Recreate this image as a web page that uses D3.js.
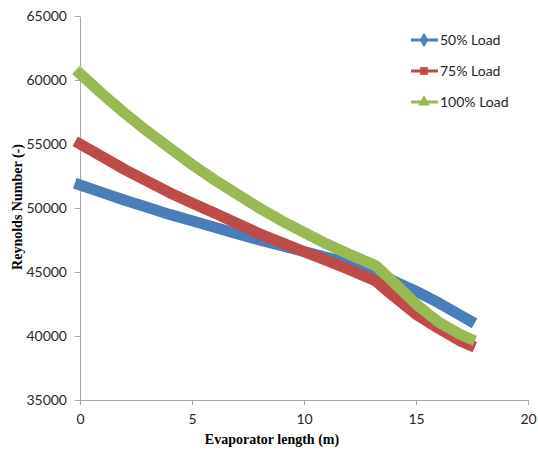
<!DOCTYPE html>
<html>
<head>
<meta charset="utf-8">
<script src="https://cdn.jsdelivr.net/npm/d3@7"></script>
<style>
    body { margin: 0; background: #fff; }
    svg { display: block; }
</style>
</head>
<body>
<div id="svgcontainer"></div>
<script>

// Data
var lengths = [0, 1, 2, 3, 4, 5, 6, 7, 8, 9, 10, 11, 12, 13.2, 14, 15, 16, 17, 17.4];
var load50 = [51800, 51200, 50600, 50050, 49500, 49000, 48500, 48000, 47500, 47050, 46600, 46150, 45700, 45000, 44300, 43500, 42600, 41600, 41200];
var load75 = [55000, 54000, 53000, 52100, 51200, 50400, 49600, 48800, 48000, 47300, 46600, 45900, 45200, 44300, 43100, 41700, 40600, 39600, 39300];
var load100 = [60500, 58900, 57400, 56000, 54700, 53400, 52200, 51100, 50000, 49000, 48100, 47200, 46400, 45500, 44200, 42500, 41100, 40100, 39800];
var seriesNames = ["50% Load", "75% Load", "100% Load"];
var xTicks = [0, 5, 10, 15, 20];
var yTicks = [35000, 40000, 45000, 50000, 55000, 60000, 65000];

window.onload = function () {

    var width = 538;
    var height = 454;

    var colors = ["#4A7EBB", "#BE4B48", "#98B954"];
    var symbols = [d3.symbolDiamond, d3.symbolSquare, d3.symbolTriangle];

    var svg = d3.select("#svgcontainer")
        .append("svg").attr("width", width).attr("height", height);

    var x = d3.scaleLinear().domain([0, 20]).range([80, 528]);
    var y = d3.scaleLinear().domain([35000, 65000]).range([400, 16]);

    // Axes
    var xAxis = svg.append("g")
        .attr("transform", "translate(0,400)")
        .call(d3.axisBottom(x).tickValues(xTicks).tickFormat(d3.format("d")).tickSize(5).tickPadding(9));

    var yAxis = svg.append("g")
        .attr("transform", "translate(80,0)")
        .call(d3.axisLeft(y).tickValues(yTicks).tickFormat(d3.format("d")).tickSize(5).tickPadding(8));

    [xAxis, yAxis].forEach(function (ax) {
        ax.select(".domain").attr("stroke", "#a6a6a6").attr("stroke-width", 1);
        ax.selectAll(".tick line").attr("stroke", "#a6a6a6");
        ax.selectAll(".tick text")
            .attr("fill", "#262626")
            .style("font-family", "Lato, 'Open Sans', sans-serif")
            .style("font-size", "14px");
    });
    xAxis.select(".domain").attr("d", "M80.5,0.5H528.5");
    yAxis.select(".domain").attr("d", "M0.5,400.5V16.5");

    // Axis titles
    svg.append("text")
        .attr("x", 272)
        .attr("y", 444)
        .attr("text-anchor", "middle")
        .style("font-family", "'Liberation Serif', 'Times New Roman', serif")
        .style("font-weight", "bold")
        .style("font-size", "14px")
        .style("fill", "#000")
        .text("Evaporator length (m)");

    svg.append("text")
        .attr("transform", "translate(22,207) rotate(-90)")
        .attr("text-anchor", "middle")
        .style("font-family", "'Liberation Serif', 'Times New Roman', serif")
        .style("font-weight", "bold")
        .style("font-size", "14px")
        .style("fill", "#000")
        .text("Reynolds Number (-)");

    // Series lines (drawn thick: dense markers in the original)
    var allSeries = [load50, load75, load100];
    var line = d3.line()
        .x(function (d) { return x(d[0]); })
        .y(function (d) { return y(d[1]); });

    allSeries.forEach(function (vals, i) {
        var pts = lengths.map(function (l, j) { return [l, vals[j]]; });
        svg.append("path")
            .datum(pts)
            .attr("fill", "none")
            .attr("stroke", colors[i])
            .attr("stroke-width", 11)
            .attr("stroke-linejoin", "round")
            .attr("stroke-linecap", "square")
            .attr("d", line);
    });

    // Legend
    var legend = svg.append("g");
    seriesNames.forEach(function (name, i) {
        var ly = 40 + i * 31;
        legend.append("line")
            .attr("x1", 411).attr("x2", 438)
            .attr("y1", ly).attr("y2", ly)
            .attr("stroke", colors[i])
            .attr("stroke-width", 3);
        legend.append("path")
            .attr("d", d3.symbol().type(symbols[i]).size(60)())
            .attr("transform", "translate(424," + ly + ")")
            .attr("fill", colors[i]);
        legend.append("text")
            .attr("x", 440)
            .attr("y", ly)
            .attr("dy", "0.35em")
            .style("font-family", "Lato, 'Open Sans', sans-serif")
            .style("font-size", "14px")
            .style("fill", "#262626")
            .text(name);
    });
};
</script>
</body>
</html>
